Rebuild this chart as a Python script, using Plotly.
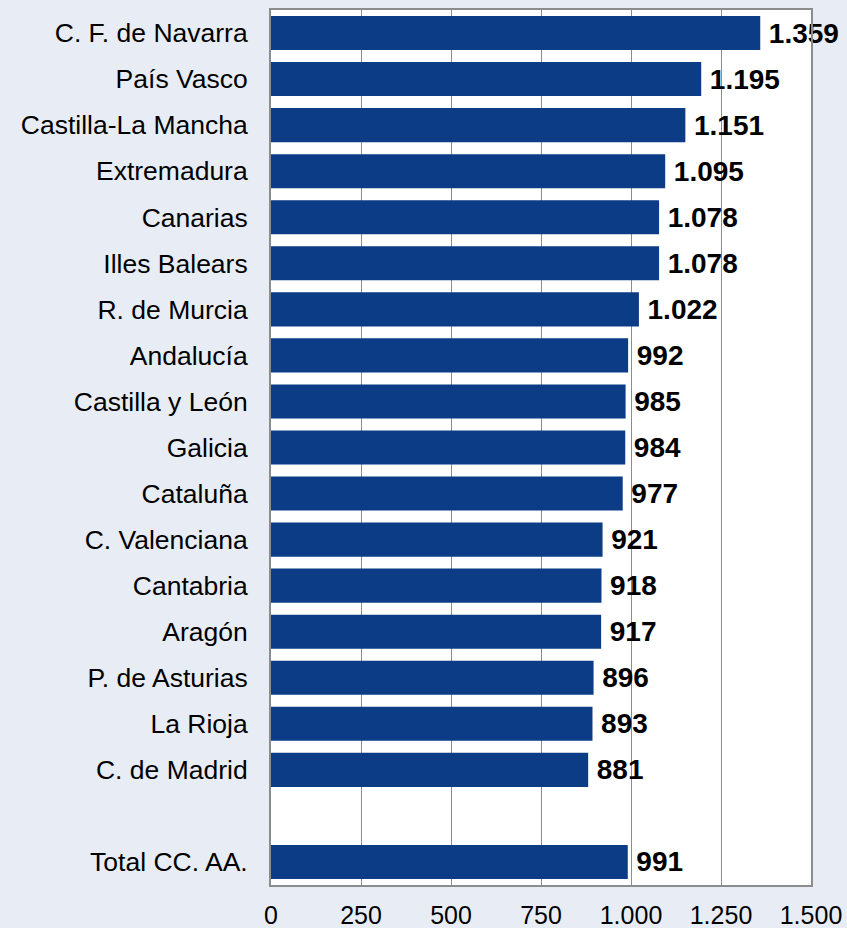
import plotly.graph_objects as go

categories = ["C. F. de Navarra", "País Vasco", "Castilla-La Mancha", "Extremadura",
              "Canarias", "Illes Balears", "R. de Murcia", "Andalucía",
              "Castilla y León", "Galicia", "Cataluña", "C. Valenciana",
              "Cantabria", "Aragón", "P. de Asturias", "La Rioja", "C. de Madrid",
              " ", "Total CC. AA."]
values = [1359, 1195, 1151, 1095, 1078, 1078, 1022, 992, 985, 984, 977, 921,
          918, 917, 896, 893, 881, None, 991]
tick_vals = [0, 250, 500, 750, 1000, 1250, 1500]

labels = ["" if v is None else "\u2009" + f"{v:,}".replace(",", ".") for v in values]

FONT = "Liberation Sans, Arial, sans-serif"

fig = go.Figure(go.Bar(
    y=categories, x=values, orientation="h",
    marker=dict(color="#0b3c85", line=dict(width=0)),
    text=labels, textposition="outside", cliponaxis=False,
    constraintext="none",
    textfont=dict(family=FONT, size=28, color="#000000", weight="bold"),
    hoverinfo="skip",
))

fig.update_layout(
    width=847, height=928,
    margin=dict(l=271, r=36, t=10, b=43),
    paper_bgcolor="#e8edf5", plot_bgcolor="#ffffff",
    separators=",.",
    bargap=0.26,
    showlegend=False,
    font=dict(family=FONT, color="#000000"),
)
fig.update_xaxes(
    range=[0, 1500], tickvals=tick_vals, tickformat=",d",
    showgrid=True, gridcolor="#8c8c8c", gridwidth=1,
    showline=True, linecolor="#8c8c8c", linewidth=2, mirror=True,
    ticks="outside", ticklen=7, tickcolor="rgba(0,0,0,0)",
    tickfont=dict(size=25), zeroline=False, automargin=False,
)
fig.update_yaxes(
    categoryorder="array", categoryarray=categories, autorange="reversed",
    showline=True, linecolor="#8c8c8c", linewidth=2, mirror=True,
    ticks="outside", ticklen=16, tickcolor="rgba(0,0,0,0)",
    tickfont=dict(size=26.5), showgrid=False, automargin=False,
)

fig.write_html(
    "out.html",
    config={"displayModeBar": False},
    post_script="document.body.style.margin='0';document.body.style.background='#e8edf5';",
)
